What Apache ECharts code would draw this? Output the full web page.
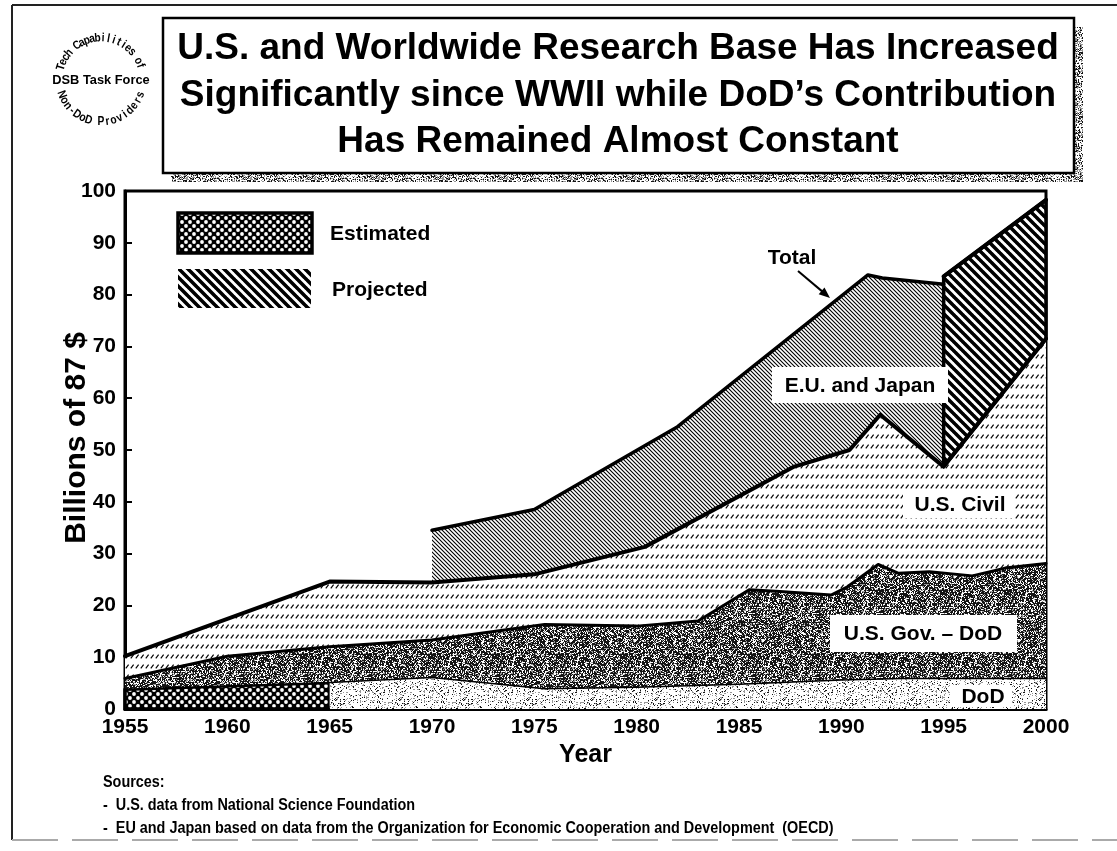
<!DOCTYPE html>
<html>
<head>
<meta charset="utf-8">
<title>U.S. and Worldwide Research Base</title>
<script src="https://cdn.jsdelivr.net/npm/echarts@6/dist/echarts.min.js"></script>
<style>
  html, body { margin: 0; padding: 0; background: #fff; }
  #main { width: 1117px; height: 851px; }
</style>
</head>
<body>
<div id="main"></div>
<script>
// boundary lines: [year, billions of 87 $]
var dodLine = [[1955, 3.8], [1965, 5.1], [1970, 6.1], [1975.5, 3.9], [1980, 4.2], [1985, 4.8], [1990, 5.6], [1993, 5.9], [2000, 5.9]];
var govLine = [[1955, 5.9], [1960, 10.2], [1965, 12.0], [1970, 13.3], [1975.5, 16.3], [1980, 16.0], [1983, 17.0], [1985.5, 23.0],
    [1987, 22.7], [1989.5, 22.0], [1990.3, 23.6], [1991.8, 27.9], [1992.8, 26.2], [1994.3, 26.5], [1996.4, 25.7], [1998, 27.2], [2000, 28.1]];
var usLine = [[1955, 10.2], [1965, 24.6], [1970, 24.4], [1975, 26.0], [1980.4, 31.3], [1987.7, 46.8], [1990.4, 50.0],
    [1991.9, 56.8], [1995, 46.8], [2000, 71.5]];
var totalLine = [[1970, 34.5], [1975, 38.5], [1982, 54.5], [1991.3, 83.8], [1992, 83.2], [1995, 82.0]];
var projectedLine = [[1995, 83.5], [2000, 98.3]];

var titleLines = [
    'U.S. and Worldwide Research Base Has Increased',
    'Significantly since WWII while DoD\u2019s Contribution',
    'Has Remained Almost Constant'
];
var sourceLines = [
    'Sources:',
    '-  U.S. data from National Science Foundation',
    '-  EU and Japan based on data from the Organization for Economic Cooperation and Development  (OECD)'
];

var FONT = '"Liberation Sans", Arial, Helvetica, sans-serif';

// ---------- fill patterns ----------
function makeCanvas(w, h, draw) {
    var c = document.createElement('canvas');
    c.width = w; c.height = h;
    var ctx = c.getContext('2d');
    ctx.fillStyle = '#fff';
    ctx.fillRect(0, 0, w, h);
    draw(ctx, w, h);
    return c;
}
function hash(x, y, seed) {
    var v = Math.sin(x * 12.9898 + y * 78.233 + seed * 37.719) * 43758.5453;
    return v - Math.floor(v);
}
function stipple(seed, dark, mid) {
    return makeCanvas(64, 64, function (ctx, w, h) {
        var img = ctx.getImageData(0, 0, w, h), d = img.data;
        for (var y = 0; y < h; y++) {
            for (var x = 0; x < w; x++) {
                var v = hash(x, y, seed), c = 255;
                if (v < dark) c = 20; else if (v < mid) c = 150;
                var i = (y * w + x) * 4;
                d[i] = d[i + 1] = d[i + 2] = c; d[i + 3] = 255;
            }
        }
        ctx.putImageData(img, 0, 0);
    });
}
function diagHatch(s, lw) {
    return makeCanvas(s, s, function (ctx) {
        ctx.strokeStyle = '#000';
        ctx.lineWidth = lw;
        ctx.beginPath();
        ctx.moveTo(-1, -1); ctx.lineTo(s + 1, s + 1);
        ctx.moveTo(-1, s - 1); ctx.lineTo(1, s + 1);
        ctx.moveTo(s - 1, -1); ctx.lineTo(s + 1, 1);
        ctx.stroke();
    });
}
var civilDash = makeCanvas(5, 10, function (ctx) {
    ctx.strokeStyle = '#000';
    ctx.lineWidth = 1.2;
    ctx.beginPath();
    ctx.moveTo(0.8, 8.4); ctx.lineTo(3.6, 4.6);
    ctx.stroke();
});
var checker = makeCanvas(8, 8, function (ctx) {
    ctx.fillStyle = '#000';
    ctx.fillRect(0, 0, 8, 8);
    ctx.fillStyle = '#fff';
    ctx.beginPath(); ctx.arc(2, 2, 1.9, 0, Math.PI * 2); ctx.fill();
    ctx.beginPath(); ctx.arc(6, 6, 1.9, 0, Math.PI * 2); ctx.fill();
});
var darkGrey = stipple(1, 0.58, 0.74);
var lightGrey = stipple(2, 0.07, 0.2);
var shadowGrey = stipple(3, 0.25, 0.5);
var fineHatch = diagHatch(4, 1.1);
var boldHatch = diagHatch(9, 3.6);

function pat(c) { return { image: c, repeat: 'repeat' }; }

// ---------- regions between two boundary lines ----------
function slice(line, x0, x1) {
    return line.filter(function (p) { return p[0] >= x0 && p[0] <= x1; });
}
function band(upper, lower, x0, x1) {
    var top = slice(upper, x0, x1);
    var bot = lower ? slice(lower, x0, x1).slice().reverse() : [[x1, 0], [x0, 0]];
    return top.concat(bot);
}
function region(pts, fill, stroke, lw) {
    return {
        type: 'custom', coordinateSystem: 'cartesian2d', silent: true, z: 1,
        data: [[pts[0][0], pts[0][1]]],
        renderItem: function (params, api) {
            return {
                type: 'polygon',
                shape: { points: pts.map(function (p) { return api.coord(p); }) },
                style: { fill: fill, stroke: stroke || null, lineWidth: lw || 0, lineJoin: 'round' }
            };
        }
    };
}
function boundary(data, width) {
    return {
        type: 'line', data: data, symbol: 'none', silent: true, z: 3,
        lineStyle: { color: '#000', width: width, join: 'round', cap: 'round' }
    };
}

// ---------- graphic decorations ----------
var el = [];
function txt(x, y, s, size, align, extra) {
    var o = {
        type: 'text', x: x, y: y, z: 100,
        style: {
            text: s, font: 'bold ' + size + 'px ' + FONT, fill: '#000',
            align: align || 'center', verticalAlign: 'middle',
            textAlign: align || 'center', textVerticalAlign: 'middle'
        }
    };
    if (extra) for (var k in extra) o[k] = extra[k];
    return o;
}
function box(x, y, w, h, fill, stroke, lw) {
    return { type: 'rect', z: 99, shape: { x: x, y: y, width: w, height: h },
        style: { fill: fill, stroke: stroke || null, lineWidth: lw || 0 } };
}

// page frame
el.push({ type: 'line', z: 99, shape: { x1: 12, y1: 5, x2: 1117, y2: 5 }, style: { stroke: '#222', lineWidth: 2 } });
el.push({ type: 'line', z: 99, shape: { x1: 12, y1: 5, x2: 12, y2: 840 }, style: { stroke: '#222', lineWidth: 2 } });
el.push({ type: 'line', z: 99, shape: { x1: 12, y1: 840, x2: 1117, y2: 840 }, style: { stroke: '#aaa', lineWidth: 2, lineDash: [46, 14] } });

// logo, text round a circle
function arcText(s, cx, cy, r, a0, a1, bottom, size) {
    for (var i = 0; i < s.length; i++) {
        var a = (a0 + (a1 - a0) * (i + 0.5) / s.length) * Math.PI / 180;
        var rot = bottom ? -(a - Math.PI / 2) : -(a + Math.PI / 2);
        el.push(txt(cx + r * Math.cos(a), cy + r * Math.sin(a), s.charAt(i), size, 'center', { rotation: rot, scaleX: 0.85 }));
    }
}
arcText('Tech Capabilities of', 101, 80, 42, -166, -16, false, 12);
arcText('Non-DoD Providers', 101, 80, 42, 164, 16, true, 12);
el.push(txt(101, 80, 'DSB Task Force', 13.5, 'center', { scaleX: 0.95 }));

// title box with shadow
el.push(box(1074, 27, 9, 155, pat(shadowGrey)));
el.push(box(171, 173, 912, 9, pat(shadowGrey)));
el.push(box(163, 18, 911, 155, '#fff', '#000', 2.5));
el.push(txt(618, 49, titleLines[0], 37));
el.push(txt(618, 96, titleLines[1], 37));
el.push(txt(618, 142, titleLines[2], 37));

// legend
el.push(box(178, 213, 134, 40, pat(checker), '#000', 3.5));
el.push(txt(330, 234, 'Estimated', 21, 'left'));
el.push(box(178, 269, 133, 39, pat(boldHatch)));
el.push(txt(332, 290, 'Projected', 21, 'left'));

// y axis title
el.push(txt(77, 438, 'Billions of 87 $', 30, 'center', { rotation: Math.PI / 2 }));

// in-plot labels
el.push(txt(792, 258, 'Total', 21));
var ax = 798, ay = 271, bx = 830, by = 298;
var len = Math.sqrt((bx - ax) * (bx - ax) + (by - ay) * (by - ay));
var ux = (bx - ax) / len, uy = (by - ay) / len;
el.push({ type: 'line', z: 99, shape: { x1: ax, y1: ay, x2: bx - ux * 6, y2: by - uy * 6 }, style: { stroke: '#000', lineWidth: 2 } });
el.push({ type: 'polygon', z: 99, shape: { points: [[bx, by],
    [bx - ux * 11 - uy * 4.5, by - uy * 11 + ux * 4.5], [bx - ux * 11 + uy * 4.5, by - uy * 11 - ux * 4.5]] },
    style: { fill: '#000' } });

el.push(box(772, 367, 176, 36, '#fff'));
el.push(txt(860, 386, 'E.U. and Japan', 21));
el.push(box(903, 492, 112, 26, '#fff'));
el.push(txt(960, 505, 'U.S. Civil', 21));
el.push(box(830, 615, 187, 37, '#fff'));
el.push(txt(923, 634, 'U.S. Gov. \u2013 DoD', 21));
el.push(box(950, 685, 62, 22, '#fff'));
el.push(txt(983, 697, 'DoD', 21));

// sources
el.push(txt(103, 783, sourceLines[0], 16, 'left', { scaleX: 0.9 }));
el.push(txt(103, 806, sourceLines[1], 16, 'left', { scaleX: 0.9 }));
el.push(txt(103, 829, sourceLines[2], 16, 'left', { scaleX: 0.9 }));

var chart = echarts.init(document.getElementById('main'), null, { renderer: 'canvas' });
var option = {
    animation: false,
    backgroundColor: '#fff',
    grid: { left: 125, right: 71, top: 191, bottom: 142, show: true, borderColor: '#000', borderWidth: 3 },
    xAxis: {
        type: 'value', min: 1955, max: 2000, interval: 5,
        name: 'Year', nameLocation: 'middle', nameGap: 33,
        nameTextStyle: { color: '#000', fontWeight: 'bold', fontSize: 25, fontFamily: FONT },
        axisLine: { lineStyle: { color: '#000', width: 3 } },
        axisTick: { show: false },
        splitLine: { show: false },
        axisLabel: { color: '#000', fontWeight: 'bold', fontSize: 21, fontFamily: FONT, margin: 8,
            formatter: function (v) { return String(v); } }
    },
    yAxis: {
        type: 'value', min: 0, max: 100, interval: 10,
        axisLine: { lineStyle: { color: '#000', width: 3 } },
        axisTick: { inside: true, length: 7, lineStyle: { color: '#000', width: 2 } },
        splitLine: { show: false },
        axisLabel: { color: '#000', fontWeight: 'bold', fontSize: 21, fontFamily: FONT, margin: 9 }
    },
    series: [
        region(band(dodLine, null, 1955, 1965), pat(checker), '#000', 3.5),
        region(band(dodLine, null, 1965, 2000), pat(lightGrey)),
        region(band(govLine, dodLine, 1955, 2000), pat(darkGrey)),
        region(band(usLine, govLine, 1955, 2000), pat(civilDash)),
        region(band(totalLine, usLine, 1970, 1995), pat(fineHatch)),
        region(band(projectedLine, usLine, 1995, 2000), pat(boldHatch), '#000', 3.5),
        boundary(dodLine, 1.5),
        boundary(govLine, 3),
        boundary(usLine, 4),
        boundary(totalLine, 3.5),
        boundary(projectedLine, 4)
    ],
    graphic: { elements: el }
};
chart.setOption(option);
</script>
</body>
</html>
